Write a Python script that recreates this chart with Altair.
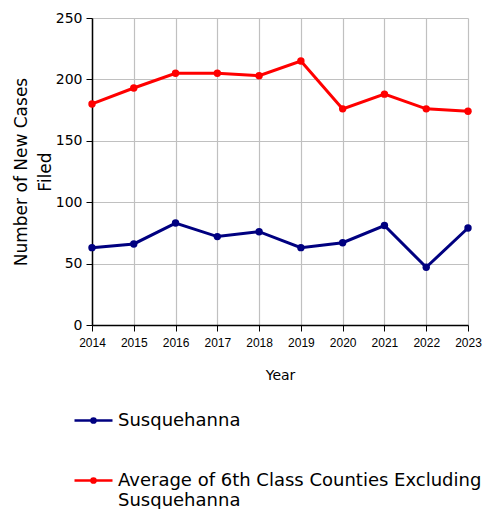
import altair as alt
import pandas as pd

years = ["2014", "2015", "2016", "2017", "2018", "2019", "2020", "2021", "2022", "2023"]
susq = [63, 66, 83, 72, 76, 63, 67, 81, 47, 79]
avg6 = [180, 193, 205, 205, 203, 215, 176, 188, 176, 174]
series = ["Susquehanna", "Average of 6th Class Counties Excluding Susquehanna"]
colors = ["#000080", "#ff0000"]

rows = []
for y, a, b in zip(years, susq, avg6):
    rows.append({"Year": y, "Series": series[0], "Value": a})
    rows.append({"Year": y, "Series": series[1], "Value": b})
df = pd.DataFrame(rows)

FONT = "Liberation Sans"
WIDE = "DejaVu Sans"
sym = "M-1,0L1,0M-0.11,0a0.11,0.11 0 1,0 0.22,0a0.11,0.11 0 1,0 -0.22,0Z"

chart = alt.Chart(df).mark_line(
    strokeWidth=3,
    point=alt.OverlayMarkDef(filled=True, size=55),
).encode(
    x=alt.X("Year:O", scale=alt.Scale(padding=0),
            axis=alt.Axis(title="Year", labelAngle=0, labelFontSize=12, labelFont=FONT,
                          titleFontSize=14, titleFont=WIDE,
                          titleFontWeight="normal", titlePadding=20, labelPadding=6, grid=True)),
    y=alt.Y("Value:Q", scale=alt.Scale(domain=[0, 250]),
            axis=alt.Axis(title=["Number of New Cases", "Filed"], values=[0, 50, 100, 150, 200, 250],
                          labelFontSize=14, labelFont=WIDE, titleFontSize=17, titleFont=WIDE,
                          titleFontWeight="normal", titleLineHeight=24,
                          titlePadding=1, labelPadding=4)),
    color=alt.Color("Series:N", sort=series,
                    scale=alt.Scale(domain=series, range=colors),
                    legend=alt.Legend(title=None, orient="none", legendX=-19, legendY=382,
                                      symbolType=sym, symbolSize=1444, symbolStrokeWidth=2.5,
                                      labelFontSize=18, labelFont=WIDE, labelLimit=500, rowPadding=30,
                                      labelOffset=4,
                                      labelExpr="datum.label == 'Susquehanna' ? 'Susquehanna' : ['Average of 6th Class Counties Excluding', 'Susquehanna']")),
    order=alt.Order("Year:O"),
).properties(
    width=376, height=307,
    autosize=alt.AutoSizeParams(type="none"),
    padding={"left": 84, "top": 10, "right": 19, "bottom": 184},
).configure_axis(
    labelColor="black", titleColor="black",
    domainColor="black", tickColor="black", tickSize=6, domainWidth=1.5,
    gridColor="#c0c0c0", gridWidth=1.2,
).configure_legend(
    labelColor="black",
).configure_view(stroke=None)

chart.save("out.html", embed_options={"renderer": "svg", "actions": False})
